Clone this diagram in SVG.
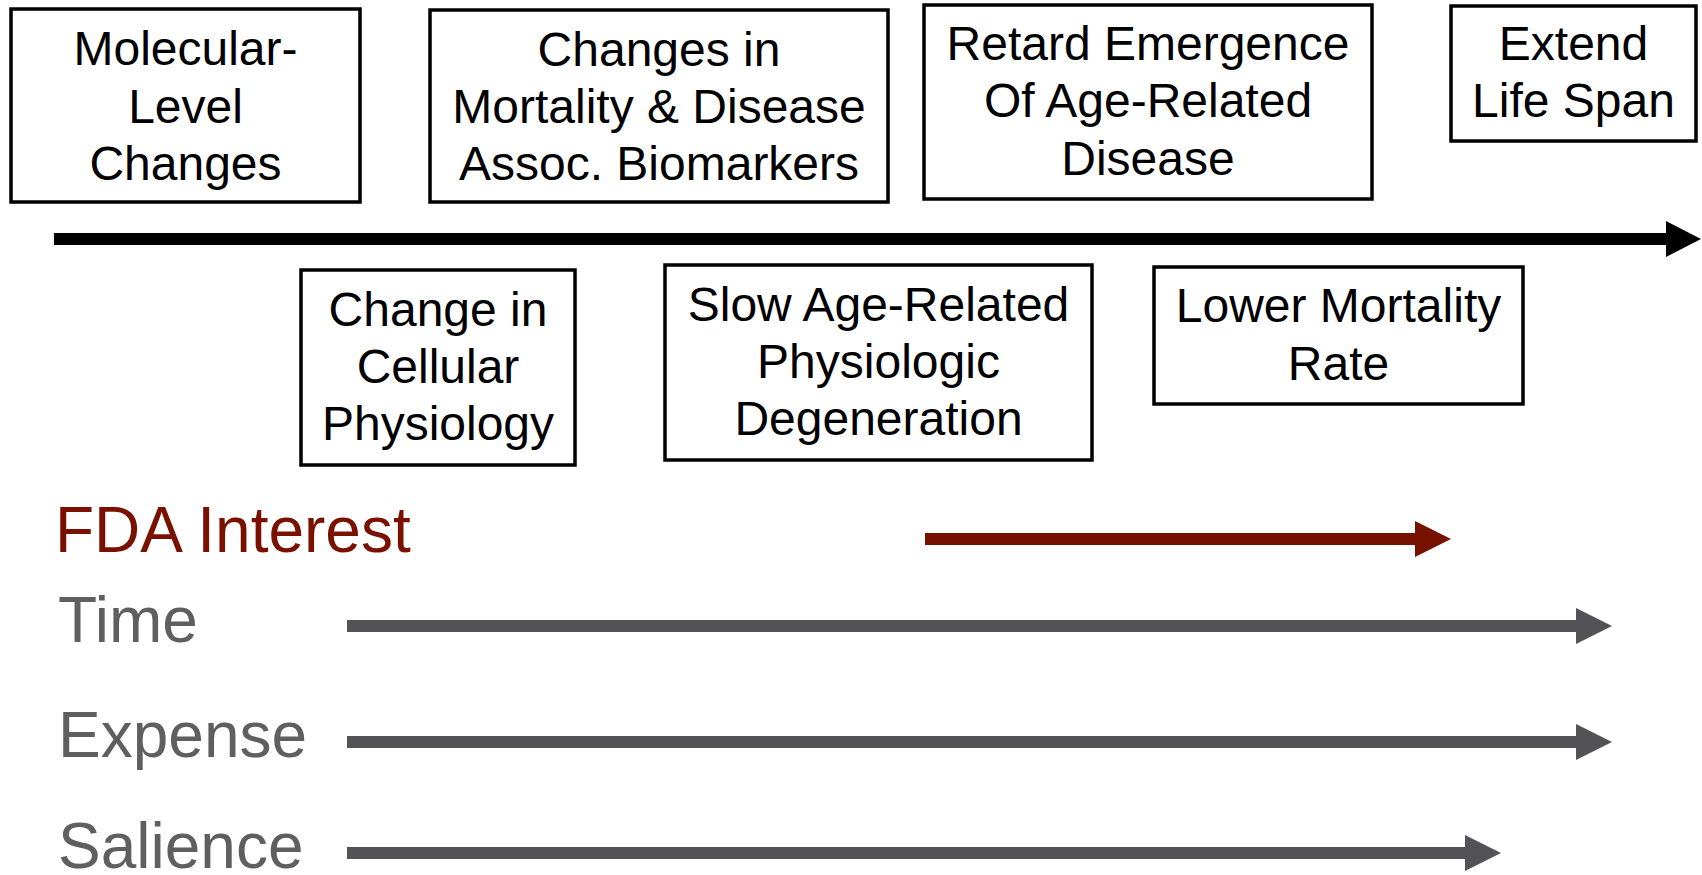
<svg xmlns="http://www.w3.org/2000/svg" width="1702" height="875" viewBox="0 0 1702 875">
<style>
.box{fill:#fff;stroke:#000;stroke-width:3.5}
.bt{font-family:"Liberation Sans",Arial,sans-serif;font-size:48px;fill:#000;text-anchor:middle}
.lbl{font-family:"Liberation Sans",Arial,sans-serif;font-size:64px}
.gray{fill:#5f5f5f}
.red{fill:#7a1000}
</style>
<defs>
<marker id="hk" markerUnits="userSpaceOnUse" markerWidth="36" markerHeight="36" viewBox="0 0 36 36" refX="0" refY="18" orient="auto"><path d="M0,0 L35,18 L0,36 Z" fill="#000"/></marker>
<marker id="hr" markerUnits="userSpaceOnUse" markerWidth="36" markerHeight="36" viewBox="0 0 36 36" refX="0" refY="18" orient="auto"><path d="M0,0 L36,18 L0,36 Z" fill="#771100"/></marker>
<marker id="hg" markerUnits="userSpaceOnUse" markerWidth="36" markerHeight="36" viewBox="0 0 36 36" refX="0" refY="18" orient="auto"><path d="M0,0 L36,18 L0,36 Z" fill="#525257"/></marker>
</defs>
<rect width="1702" height="875" fill="#fff"/>
<g id="connectors">
<line x1="54" y1="239" x2="1666" y2="239" stroke="#000" stroke-width="12" marker-end="url(#hk)"/>
<line x1="925" y1="539" x2="1415" y2="539" stroke="#771100" stroke-width="12" marker-end="url(#hr)"/>
<line x1="347" y1="626" x2="1576" y2="626" stroke="#525257" stroke-width="12" marker-end="url(#hg)"/>
<line x1="347" y1="742" x2="1576" y2="742" stroke="#525257" stroke-width="12" marker-end="url(#hg)"/>
<line x1="347" y1="853" x2="1465" y2="853" stroke="#525257" stroke-width="12" marker-end="url(#hg)"/>
</g>
<g id="molecular">
<rect class="box" x="11" y="9" width="349" height="193"/>
<text class="bt" x="185.5" y="65">Molecular-</text>
<text class="bt" x="185.5" y="123">Level</text>
<text class="bt" x="185.5" y="180">Changes</text>
</g>
<g id="biomarkers">
<rect class="box" x="430" y="10" width="458" height="192"/>
<text class="bt" x="659" y="66">Changes in</text>
<text class="bt" x="659" y="123">Mortality &amp; Disease</text>
<text class="bt" x="659" y="180">Assoc. Biomarkers</text>
</g>
<g id="retard">
<rect class="box" x="924" y="5" width="448" height="194"/>
<text class="bt" x="1148" y="60">Retard Emergence</text>
<text class="bt" x="1148" y="117">Of Age-Related</text>
<text class="bt" x="1148" y="175">Disease</text>
</g>
<g id="extend">
<rect class="box" x="1451" y="6" width="245" height="135"/>
<text class="bt" x="1573.5" y="60">Extend</text>
<text class="bt" x="1573.5" y="117">Life Span</text>
</g>
<g id="cellular">
<rect class="box" x="301" y="270" width="274" height="195"/>
<text class="bt" x="438" y="326">Change in</text>
<text class="bt" x="438" y="383">Cellular</text>
<text class="bt" x="438" y="440">Physiology</text>
</g>
<g id="degeneration">
<rect class="box" x="665" y="265" width="427" height="195"/>
<text class="bt" x="878.5" y="321">Slow Age-Related</text>
<text class="bt" x="878.5" y="378">Physiologic</text>
<text class="bt" x="878.5" y="435">Degeneration</text>
</g>
<g id="mortality">
<rect class="box" x="1154" y="267" width="369" height="137"/>
<text class="bt" x="1338.5" y="322">Lower Mortality</text>
<text class="bt" x="1338.5" y="380">Rate</text>
</g>
<g id="labels">
<text class="lbl red" x="55" y="552">FDA Interest</text>
<text class="lbl gray" x="58" y="642">Time</text>
<text class="lbl gray" x="58" y="757">Expense</text>
<text class="lbl gray" x="58" y="868">Salience</text>
</g>
</svg>
